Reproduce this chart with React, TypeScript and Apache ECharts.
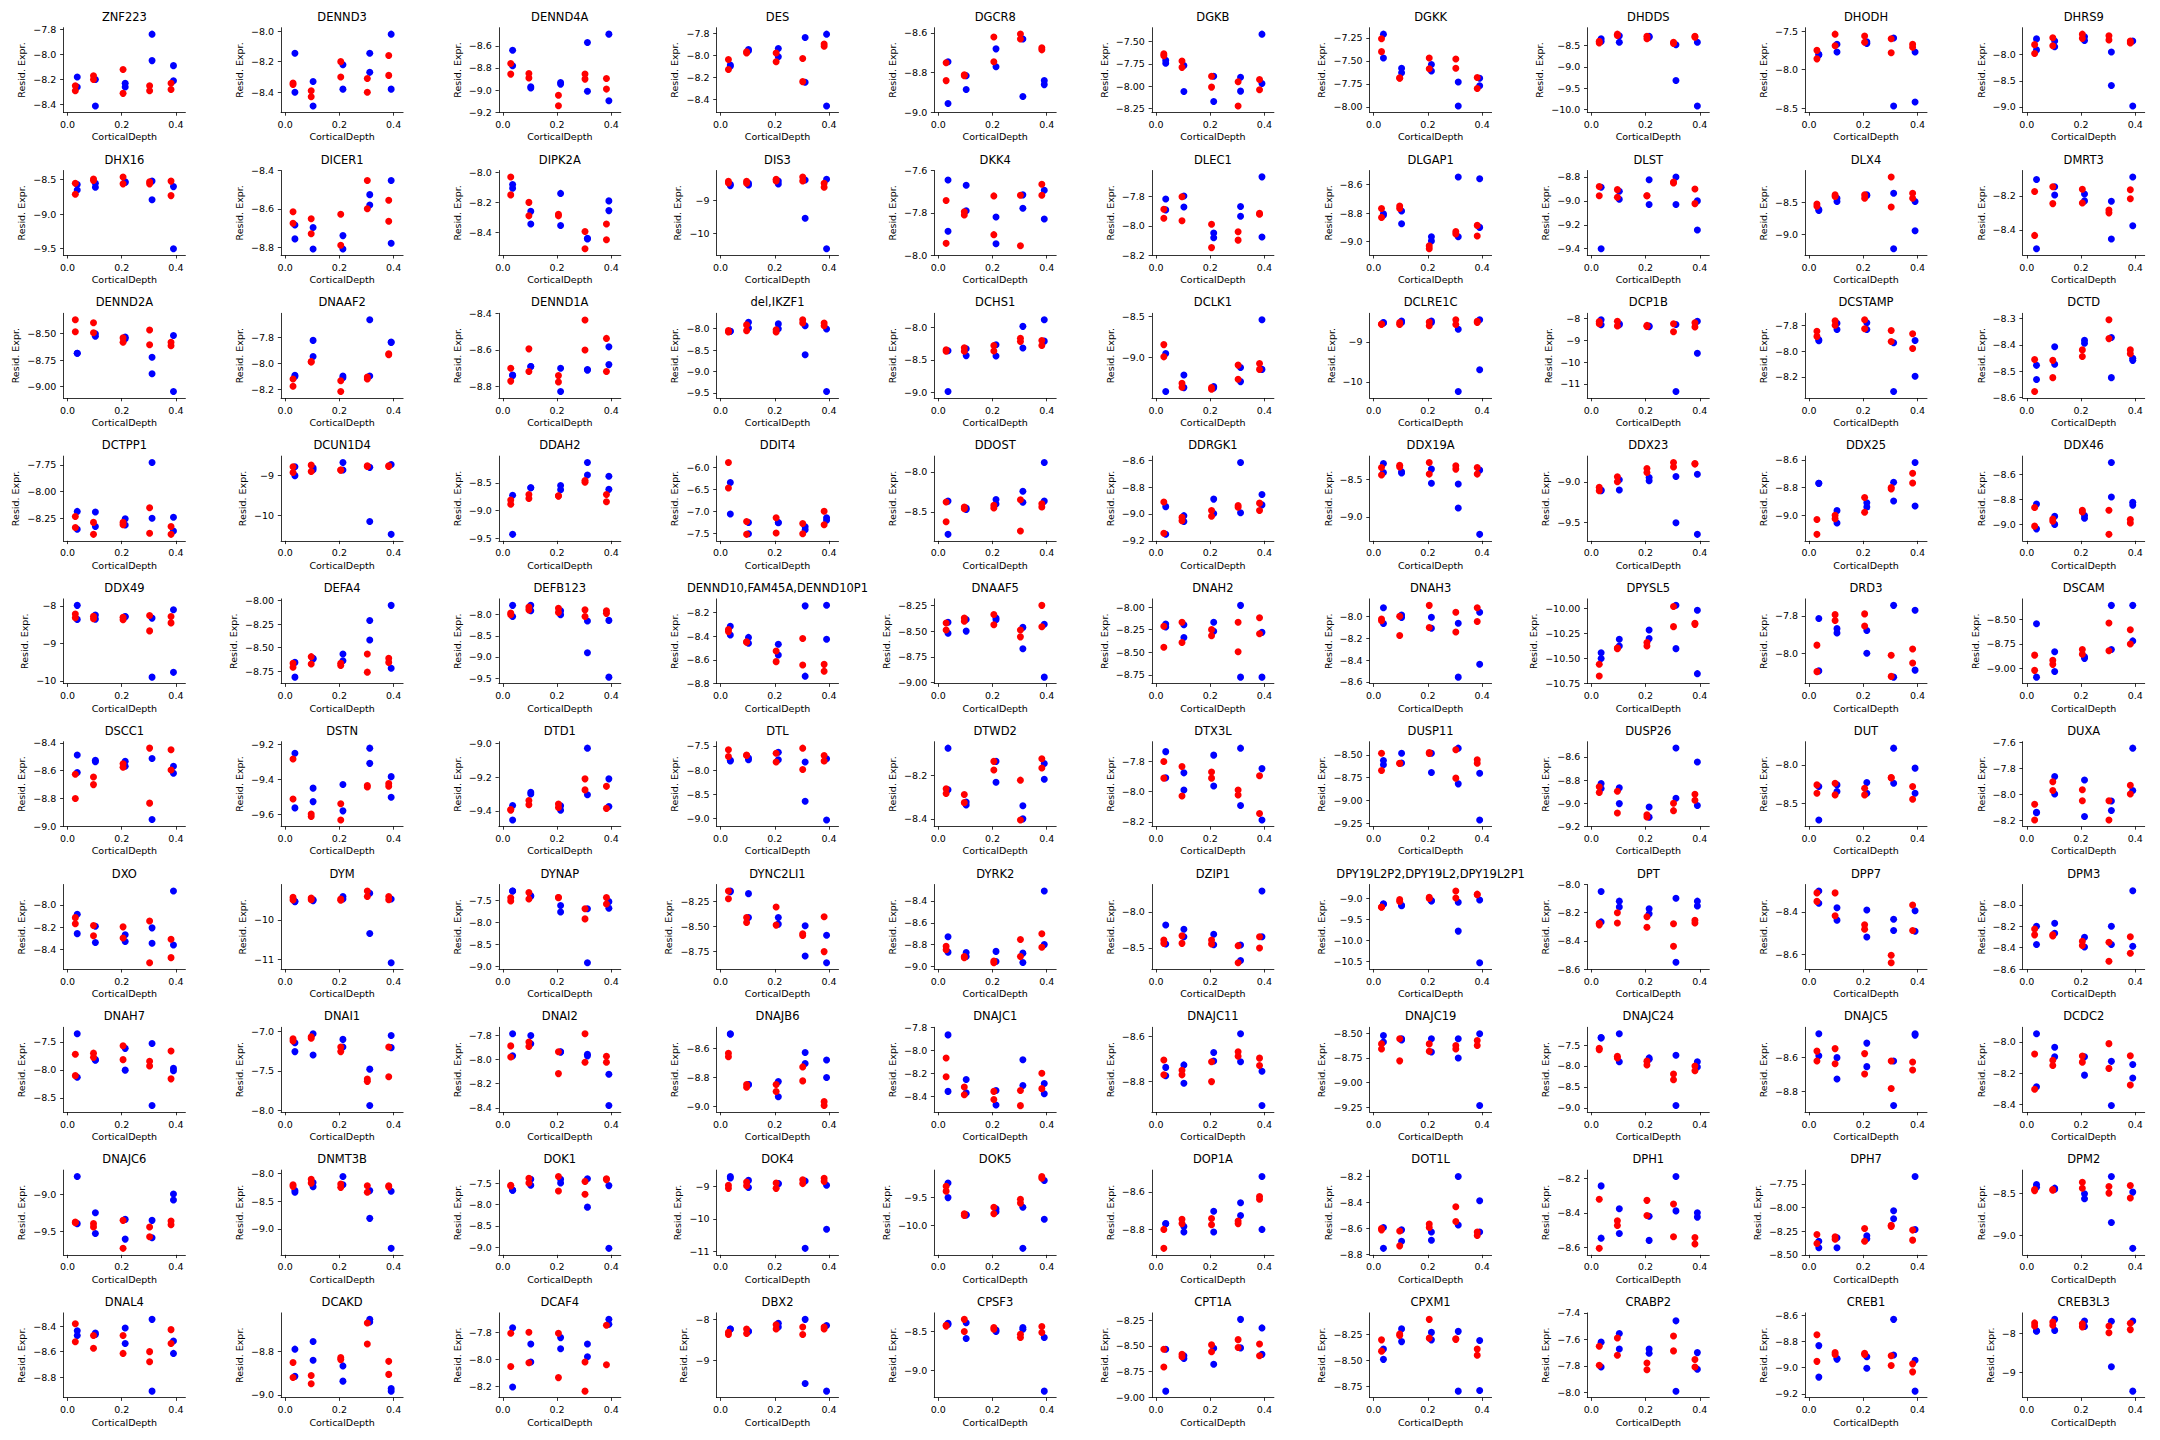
import React, { useEffect, useRef } from "react";
import * as echarts from "echarts";

const FONT = "DejaVu Sans";

const GENES = [
  "ZNF223","DENND3","DENND4A","DES","DGCR8","DGKB","DGKK","DHDDS","DHODH","DHRS9",
  "DHX16","DICER1","DIPK2A","DIS3","DKK4","DLEC1","DLGAP1","DLST","DLX4","DMRT3",
  "DENND2A","DNAAF2","DENND1A","del,IKZF1","DCHS1","DCLK1","DCLRE1C","DCP1B","DCSTAMP","DCTD",
  "DCTPP1","DCUN1D4","DDAH2","DDIT4","DDOST","DDRGK1","DDX19A","DDX23","DDX25","DDX46",
  "DDX49","DEFA4","DEFB123","DENND10,FAM45A,DENND10P1","DNAAF5","DNAH2","DNAH3","DPYSL5","DRD3","DSCAM",
  "DSCC1","DSTN","DTD1","DTL","DTWD2","DTX3L","DUSP11","DUSP26","DUT","DUXA",
  "DXO","DYM","DYNAP","DYNC2LI1","DYRK2","DZIP1","DPY19L2P2,DPY19L2,DPY19L2P1","DPT","DPP7","DPM3",
  "DNAH7","DNAI1","DNAI2","DNAJB6","DNAJC1","DNAJC11","DNAJC19","DNAJC24","DNAJC5","DCDC2",
  "DNAJC6","DNMT3B","DOK1","DOK4","DOK5","DOP1A","DOT1L","DPH1","DPH7","DPM2",
  "DNAL4","DCAKD","DCAF4","DBX2","CPSF3","CPT1A","CPXM1","CRABP2","CREB1","CREB3L3",
];

// CorticalDepth of each sample (two replicates per depth)
const RED_X = [0.029, 0.029, 0.096, 0.096, 0.205, 0.205, 0.303, 0.303, 0.382, 0.382];
const BLUE_X = [0.036, 0.036, 0.103, 0.103, 0.213, 0.213, 0.312, 0.312, 0.391, 0.391];
const X_TICKS = [0.0, 0.2, 0.4];
const X_MIN = -0.015;
const X_MAX = 0.435;

const RED: number[][] = [
  [-8.25,-8.29,-8.17,-8.20,-8.12,-8.31,-8.25,-8.29,-8.23,-8.28],
  [-8.34,-8.35,-8.39,-8.43,-8.20,-8.30,-8.31,-8.40,-8.16,-8.29],
  [-8.76,-8.855,-8.85,-8.89,-9.045,-9.14,-8.855,-8.90,-8.895,-8.99],
  [-8.04,-8.13,-7.97,-7.98,-7.98,-8.06,-8.03,-8.24,-7.90,-7.92],
  [-8.75,-8.84,-8.81,-8.815,-8.62,-8.745,-8.605,-8.63,-8.675,-8.685],
  [-7.64,-7.66,-7.72,-7.79,-7.89,-8.01,-7.95,-8.22,-7.925,-8.04],
  [-7.26,-7.40,-7.685,-7.69,-7.47,-7.585,-7.48,-7.58,-7.68,-7.80],
  [-8.40,-8.44,-8.23,-8.26,-8.28,-8.34,-8.42,-8.45,-8.28,-8.30],
  [-7.75,-7.86,-7.54,-7.69,-7.565,-7.645,-7.60,-7.78,-7.67,-7.71],
  [-7.81,-7.98,-7.68,-7.83,-7.61,-7.69,-7.64,-7.72,-7.74,-7.78],
  [-8.55,-8.71,-8.49,-8.51,-8.46,-8.56,-8.53,-8.56,-8.52,-8.73],
  [-8.615,-8.675,-8.652,-8.73,-8.628,-8.79,-8.452,-8.60,-8.555,-8.665],
  [-8.03,-8.15,-8.20,-8.29,-8.28,-8.29,-8.395,-8.51,-8.345,-8.45],
  [-8.43,-8.48,-8.43,-8.49,-8.37,-8.42,-8.30,-8.42,-8.49,-8.61],
  [-7.742,-7.944,-7.795,-7.81,-7.72,-7.903,-7.717,-7.955,-7.665,-7.717],
  [-7.886,-7.947,-7.80,-7.964,-7.988,-8.148,-8.04,-8.097,-7.914,-7.92],
  [-8.767,-8.83,-8.75,-8.767,-9.03,-9.05,-8.93,-8.946,-8.886,-8.96],
  [-8.88,-8.957,-8.906,-8.97,-8.957,-8.957,-8.843,-8.85,-8.90,-9.023],
  [-8.53,-8.565,-8.39,-8.415,-8.39,-8.44,-8.115,-8.575,-8.365,-8.44],
  [-8.175,-8.432,-8.147,-8.246,-8.162,-8.242,-8.284,-8.30,-8.165,-8.217],
  [-8.372,-8.484,-8.40,-8.494,-8.542,-8.583,-8.468,-8.606,-8.583,-8.615],
  [-8.12,-8.175,-7.987,-7.99,-8.133,-8.216,-8.105,-8.12,-7.926,-7.934],
  [-8.70,-8.77,-8.594,-8.718,-8.74,-8.775,-8.437,-8.60,-8.537,-8.718],
  [-8.045,-8.075,-7.91,-8.045,-8.022,-8.075,-7.79,-7.865,-7.865,-7.932],
  [-8.343,-8.368,-8.313,-8.368,-8.278,-8.363,-8.167,-8.217,-8.202,-8.278],
  [-8.843,-8.992,-9.315,-9.363,-9.367,-9.387,-9.093,-9.266,-9.073,-9.145],
  [-8.563,-8.56,-8.524,-8.571,-8.508,-8.603,-8.452,-8.571,-8.492,-8.52],
  [-8.144,-8.245,-8.13,-8.346,-8.317,-8.36,-8.245,-8.606,-8.2,-8.39],
  [-7.846,-7.886,-7.765,-7.80,-7.757,-7.827,-7.84,-7.926,-7.865,-7.98],
  [-8.456,-8.578,-8.459,-8.525,-8.419,-8.444,-8.304,-8.376,-8.419,-8.434],
  [-8.234,-8.337,-8.289,-8.401,-8.289,-8.311,-8.151,-8.391,-8.327,-8.401],
  [-8.774,-8.919,-8.734,-8.895,-8.855,-8.86,-8.75,-8.77,-8.75,-8.77],
  [-8.812,-8.888,-8.712,-8.782,-8.735,-8.74,-8.459,-8.488,-8.712,-8.841],
  [-5.89,-6.47,-7.233,-7.524,-7.145,-7.495,-7.277,-7.51,-7.0,-7.306],
  [-8.377,-8.623,-8.439,-8.46,-8.418,-8.451,-8.348,-8.738,-8.398,-8.439],
  [-8.912,-9.144,-9.026,-9.051,-8.974,-9.018,-8.938,-8.95,-8.92,-8.974],
  [-8.336,-8.438,-8.305,-8.33,-8.27,-8.425,-8.314,-8.358,-8.336,-8.425],
  [-9.07,-9.111,-8.939,-9.0,-8.836,-8.885,-8.762,-8.816,-8.775,-8.78],
  [-9.031,-9.138,-9.0,-9.026,-8.872,-8.979,-8.8,-8.81,-8.697,-8.767],
  [-8.864,-9.014,-8.956,-8.975,-8.886,-8.9,-8.886,-9.08,-8.961,-8.989],
  [-8.213,-8.315,-8.272,-8.34,-8.298,-8.366,-8.255,-8.664,-8.281,-8.451],
  [-8.667,-8.709,-8.596,-8.674,-8.667,-8.691,-8.568,-8.761,-8.614,-8.657],
  [-7.962,-8.0,-7.819,-7.887,-7.849,-7.947,-7.887,-8.045,-7.91,-7.97],
  [-8.343,-8.36,-8.446,-8.45,-8.524,-8.614,-8.418,-8.643,-8.637,-8.695],
  [-8.421,-8.49,-8.372,-8.405,-8.339,-8.438,-8.49,-8.556,-8.25,-8.457],
  [-8.212,-8.444,-8.168,-8.393,-8.25,-8.318,-8.168,-8.494,-8.119,-8.295],
  [-8.025,-8.04,-8.0,-8.175,-7.9,-8.103,-7.963,-8.144,-7.922,-8.047],
  [-10.558,-10.674,-10.402,-10.395,-10.342,-10.375,-9.983,-10.183,-10.149,-10.16],
  [-7.955,-8.095,-7.794,-7.825,-7.79,-7.854,-8.008,-8.12,-7.975,-8.049],
  [-8.867,-9.024,-8.92,-8.962,-8.808,-8.857,-8.535,-8.822,-8.605,-8.752],
  [-8.625,-8.80,-8.645,-8.70,-8.55,-8.575,-8.438,-8.833,-8.45,-8.595],
  [-9.285,-9.514,-9.60,-9.614,-9.541,-9.634,-9.437,-9.445,-9.425,-9.441],
  [-9.391,-9.395,-9.338,-9.364,-9.359,-9.38,-9.211,-9.276,-9.255,-9.385],
  [-7.58,-7.72,-7.687,-7.70,-7.653,-7.833,-7.547,-7.987,-7.70,-7.813],
  [-8.261,-8.283,-8.287,-8.325,-8.134,-8.174,-8.221,-8.405,-8.122,-8.165],
  [-7.802,-7.912,-7.835,-8.03,-7.872,-7.912,-7.99,-8.023,-7.896,-8.146],
  [-8.482,-8.672,-8.592,-8.595,-8.474,-8.485,-8.445,-8.756,-8.555,-8.592],
  [-8.858,-8.907,-8.896,-9.084,-9.099,-9.119,-9.0,-9.064,-8.922,-8.974],
  [-8.261,-8.37,-8.239,-8.391,-8.304,-8.391,-8.165,-8.17,-8.283,-8.448],
  [-8.075,-8.195,-7.901,-7.968,-7.963,-8.048,-8.048,-8.195,-7.928,-7.995],
  [-8.114,-8.169,-8.185,-8.277,-8.197,-8.298,-8.145,-8.52,-8.308,-8.474],
  [-9.426,-9.492,-9.443,-9.484,-9.467,-9.50,-9.262,-9.402,-9.402,-9.484],
  [-7.434,-7.507,-7.316,-7.463,-7.426,-7.43,-7.685,-7.914,-7.426,-7.574],
  [-8.142,-8.22,-8.409,-8.46,-8.304,-8.486,-8.574,-8.591,-8.402,-8.753],
  [-8.816,-8.847,-8.909,-8.92,-8.95,-8.966,-8.753,-8.909,-8.70,-8.825],
  [-8.391,-8.436,-8.332,-8.436,-8.391,-8.445,-8.468,-8.705,-8.345,-8.5],
  [-9.214,-9.22,-9.038,-9.084,-8.985,-9.01,-8.832,-9.0,-8.908,-8.92],
  [-8.286,-8.275,-8.2,-8.273,-8.229,-8.303,-8.278,-8.437,-8.253,-8.273],
  [-8.311,-8.351,-8.311,-8.418,-8.461,-8.482,-8.604,-8.639,-8.368,-8.488],
  [-8.225,-8.28,-8.28,-8.29,-8.34,-8.38,-8.349,-8.526,-8.297,-8.452],
  [-7.72,-8.104,-7.702,-7.777,-7.569,-7.818,-7.847,-7.933,-7.662,-8.162],
  [-7.096,-7.125,-7.071,-7.09,-7.2,-7.258,-7.604,-7.633,-7.2,-7.575],
  [-7.889,-7.98,-7.857,-7.894,-7.937,-8.117,-7.789,-8.023,-7.974,-8.023],
  [-8.632,-8.656,-8.849,-8.868,-8.849,-8.898,-8.727,-8.824,-8.968,-8.995],
  [-8.068,-8.23,-8.32,-8.388,-8.358,-8.429,-8.35,-8.482,-8.2,-8.334],
  [-8.704,-8.77,-8.75,-8.77,-8.712,-8.80,-8.668,-8.688,-8.696,-8.729],
  [-8.609,-8.66,-8.558,-8.78,-8.609,-8.684,-8.626,-8.66,-8.575,-8.626],
  [-7.577,-7.615,-7.769,-7.808,-7.885,-7.977,-8.192,-8.331,-8.0,-8.115],
  [-8.561,-8.62,-8.546,-8.637,-8.576,-8.698,-8.62,-8.785,-8.626,-8.674],
  [-8.077,-8.302,-8.117,-8.151,-8.09,-8.129,-8.011,-8.169,-8.088,-8.275],
  [-9.376,-9.385,-9.398,-9.442,-9.354,-9.73,-9.442,-9.575,-9.363,-9.412],
  [-8.201,-8.231,-8.101,-8.172,-8.189,-8.249,-8.219,-8.337,-8.219,-8.24],
  [-7.552,-7.57,-7.387,-7.5,-7.349,-7.687,-7.462,-7.762,-7.402,-7.42],
  [-8.971,-9.068,-8.873,-8.99,-8.902,-9.068,-8.805,-8.922,-8.756,-8.854],
  [-9.299,-9.385,-9.787,-9.816,-9.672,-9.787,-9.529,-9.598,-9.126,-9.155],
  [-8.8,-8.901,-8.746,-8.769,-8.742,-8.775,-8.755,-8.769,-8.625,-8.639],
  [-8.603,-8.613,-8.621,-8.736,-8.568,-8.595,-8.435,-8.549,-8.629,-8.656],
  [-8.322,-8.606,-8.446,-8.474,-8.328,-8.416,-8.349,-8.539,-8.543,-8.581],
  [-8.285,-8.38,-8.31,-8.335,-8.222,-8.356,-8.187,-8.2,-8.239,-8.345],
  [-8.457,-8.47,-8.457,-8.465,-8.37,-8.441,-8.421,-8.5,-8.409,-8.559],
  [-8.381,-8.522,-8.473,-8.573,-8.473,-8.614,-8.60,-8.679,-8.427,-8.536],
  [-8.851,-8.92,-8.911,-8.949,-8.829,-8.838,-8.67,-8.766,-8.846,-8.906],
  [-7.808,-8.054,-7.80,-8.026,-7.808,-8.136,-8.021,-8.236,-7.749,-8.041],
  [-8.315,-8.37,-8.236,-8.346,-8.134,-8.236,-8.189,-8.37,-8.189,-8.236],
  [-8.419,-8.43,-8.343,-8.5,-8.449,-8.47,-8.534,-8.576,-8.436,-8.513],
  [-8.533,-8.706,-8.583,-8.606,-8.49,-8.557,-8.44,-8.517,-8.483,-8.596],
  [-8.3,-8.41,-8.243,-8.257,-8.1,-8.283,-8.29,-8.295,-8.39,-8.45],
  [-7.652,-7.796,-7.59,-7.72,-7.778,-7.83,-7.574,-7.687,-7.752,-7.809],
  [-8.749,-8.952,-8.885,-8.899,-8.891,-8.9,-8.909,-8.984,-8.971,-9.032],
  [-7.74,-7.82,-7.72,-7.80,-7.76,-7.84,-7.82,-7.99,-7.75,-7.91],
];

const BLUE: number[][] = [
  [-8.18,-8.26,-8.20,-8.41,-8.23,-8.26,-7.84,-8.05,-8.09,-8.21],
  [-8.145,-8.40,-8.33,-8.49,-8.22,-8.38,-8.145,-8.27,-8.02,-8.38],
  [-8.64,-8.78,-8.97,-8.98,-8.93,-8.945,-8.57,-9.01,-8.495,-9.095],
  [-8.09,-8.10,-7.95,-7.96,-7.94,-8.015,-7.84,-8.245,-7.81,-8.46],
  [-8.745,-8.955,-8.815,-8.885,-8.68,-8.77,-8.63,-8.92,-8.84,-8.86],
  [-7.71,-7.745,-7.77,-8.06,-7.89,-8.17,-7.90,-8.055,-7.42,-7.97],
  [-7.21,-7.47,-7.58,-7.63,-7.54,-7.61,-7.73,-7.99,-7.69,-7.77],
  [-8.34,-8.40,-8.27,-8.42,-8.28,-8.30,-8.48,-9.32,-8.42,-9.92],
  [-7.80,-7.81,-7.67,-7.77,-7.64,-7.66,-7.59,-8.47,-7.77,-8.42],
  [-7.70,-7.91,-7.74,-7.85,-7.66,-7.73,-7.95,-8.59,-7.74,-8.98],
  [-8.57,-8.65,-8.55,-8.61,-8.53,-8.54,-8.52,-8.79,-8.60,-9.50],
  [-8.685,-8.757,-8.698,-8.81,-8.74,-8.81,-8.526,-8.58,-8.452,-8.78],
  [-8.08,-8.105,-8.26,-8.345,-8.14,-8.355,-8.44,-8.445,-8.19,-8.255],
  [-8.56,-8.52,-8.49,-8.54,-8.51,-8.42,-8.39,-9.54,-8.37,-10.46],
  [-7.645,-7.887,-7.67,-7.79,-7.82,-7.946,-7.715,-7.778,-7.693,-7.829],
  [-7.815,-7.89,-7.795,-7.87,-8.048,-8.08,-7.867,-7.934,-7.664,-8.076],
  [-8.805,-8.815,-8.785,-8.874,-8.966,-8.995,-8.546,-8.966,-8.558,-8.90],
  [-8.886,-9.40,-8.92,-8.986,-8.823,-9.03,-8.80,-9.03,-9.0,-9.243],
  [-8.615,-8.63,-8.44,-8.49,-8.39,-8.40,-8.365,-9.215,-8.49,-8.94],
  [-8.105,-8.51,-8.147,-8.196,-8.19,-8.23,-8.232,-8.453,-8.09,-8.375],
  [-8.686,-8.686,-8.503,-8.526,-8.535,-8.55,-8.724,-8.878,-8.519,-9.045],
  [-8.092,-8.10,-7.824,-7.947,-8.097,-8.11,-7.666,-8.097,-7.837,-7.84],
  [-8.737,-8.74,-8.69,-8.69,-8.70,-8.827,-8.707,-8.71,-8.583,-8.68],
  [-8.06,-8.06,-7.85,-7.985,-7.887,-8.0,-7.932,-8.61,-8.008,-9.47],
  [-8.36,-8.985,-8.328,-8.434,-8.268,-8.439,-7.985,-8.318,-7.884,-8.212],
  [-8.952,-9.415,-9.214,-9.367,-9.355,-9.37,-9.121,-9.294,-8.54,-9.145],
  [-8.524,-8.53,-8.484,-8.52,-8.484,-8.52,-8.69,-10.238,-8.452,-9.698],
  [-8.058,-8.29,-8.245,-8.29,-8.346,-8.38,-8.274,-11.35,-8.13,-9.59],
  [-7.913,-7.92,-7.784,-7.832,-7.78,-7.832,-7.935,-8.314,-7.918,-8.195],
  [-8.478,-8.532,-8.407,-8.474,-8.382,-8.394,-8.372,-8.525,-8.451,-8.459],
  [-8.186,-8.353,-8.192,-8.327,-8.256,-8.314,-7.728,-8.25,-8.24,-8.369],
  [-8.774,-9.0,-8.798,-8.85,-8.669,-8.855,-8.79,-10.16,-8.718,-10.484],
  [-8.724,-9.429,-8.588,-8.59,-8.547,-8.624,-8.135,-8.359,-8.382,-8.618],
  [-6.345,-7.06,-7.255,-7.51,-7.255,-7.26,-7.35,-7.42,-7.145,-7.204],
  [-8.365,-8.779,-8.451,-8.47,-8.344,-8.40,-8.242,-8.38,-7.885,-8.365],
  [-8.946,-9.151,-9.013,-9.056,-8.89,-8.997,-8.618,-8.992,-8.856,-8.933],
  [-8.283,-8.403,-8.394,-8.41,-8.358,-8.549,-8.558,-8.881,-8.372,-9.235],
  [-9.102,-9.11,-8.975,-9.102,-8.947,-8.988,-8.934,-9.508,-8.906,-9.652],
  [-8.769,-8.77,-8.967,-9.056,-8.91,-8.941,-8.762,-8.897,-8.62,-8.933],
  [-8.837,-9.036,-8.934,-9.0,-8.928,-8.95,-8.503,-8.78,-8.823,-8.845],
  [-7.983,-8.357,-8.238,-8.35,-8.281,-8.29,-8.323,-9.898,-8.102,-9.77],
  [-8.657,-8.814,-8.614,-8.62,-8.568,-8.639,-8.211,-8.418,-8.05,-8.719],
  [-7.781,-8.045,-7.781,-7.91,-7.91,-8.0,-8.151,-8.902,-8.136,-9.477],
  [-8.315,-8.389,-8.409,-8.458,-8.467,-8.558,-8.142,-8.737,-8.137,-8.424],
  [-8.414,-8.52,-8.388,-8.5,-8.372,-8.39,-8.464,-8.671,-8.434,-8.947],
  [-8.187,-8.22,-8.195,-8.337,-8.168,-8.268,-7.981,-8.776,-8.28,-8.776],
  [-8.066,-7.922,-7.988,-8.01,-8.009,-8.109,-8.063,-8.556,-7.963,-8.438],
  [-10.442,-10.5,-10.309,-10.375,-10.216,-10.302,-9.97,-10.402,-10.02,-10.651],
  [-7.814,-8.091,-7.868,-7.891,-7.878,-7.998,-7.745,-8.124,-7.771,-8.087],
  [-8.542,-9.094,-8.832,-9.035,-8.885,-8.9,-8.353,-8.808,-8.353,-8.72],
  [-8.488,-8.613,-8.525,-8.535,-8.533,-8.568,-8.513,-8.95,-8.568,-8.618],
  [-9.252,-9.565,-9.452,-9.529,-9.431,-9.582,-9.223,-9.31,-9.386,-9.504],
  [-9.368,-9.453,-9.29,-9.30,-9.37,-9.396,-9.03,-9.305,-9.211,-9.374],
  [-7.80,-7.81,-7.753,-7.787,-7.633,-7.787,-7.833,-8.647,-7.767,-9.033],
  [-8.073,-8.265,-8.322,-8.336,-8.134,-8.231,-8.339,-8.40,-8.144,-8.217],
  [-7.737,-7.91,-7.877,-7.99,-7.76,-7.964,-7.714,-8.093,-7.849,-8.188],
  [-8.562,-8.61,-8.482,-8.59,-8.482,-8.694,-8.427,-8.819,-8.702,-9.215],
  [-8.829,-8.872,-8.867,-9.003,-9.032,-9.12,-8.522,-8.957,-8.643,-9.02],
  [-8.283,-8.717,-8.261,-8.348,-8.23,-8.37,-7.783,-8.239,-8.043,-8.37],
  [-8.136,-8.14,-7.861,-7.995,-7.888,-8.168,-8.05,-8.123,-7.643,-7.968],
  [-8.083,-8.258,-8.191,-8.338,-8.268,-8.329,-8.206,-8.345,-7.874,-8.36],
  [-9.533,-9.53,-9.484,-9.508,-9.402,-9.467,-9.32,-10.344,-9.467,-11.09],
  [-7.279,-7.28,-7.39,-7.40,-7.611,-7.759,-7.685,-8.911,-7.522,-7.67],
  [-8.142,-8.15,-8.169,-8.409,-8.409,-8.476,-8.493,-8.797,-8.588,-8.865],
  [-8.728,-8.869,-8.872,-8.909,-8.862,-8.955,-8.878,-8.963,-8.309,-8.80],
  [-8.182,-8.445,-8.241,-8.345,-8.309,-8.455,-8.459,-8.673,-7.709,-8.345],
  [-9.138,-9.15,-9.176,-9.18,-9.061,-9.07,-9.1,-9.786,-9.046,-10.538],
  [-8.049,-8.265,-8.118,-8.16,-8.172,-8.208,-8.098,-8.551,-8.118,-8.152],
  [-8.302,-8.36,-8.381,-8.439,-8.391,-8.518,-8.435,-8.488,-8.395,-8.491],
  [-8.2,-8.37,-8.172,-8.265,-8.303,-8.394,-8.2,-8.37,-7.87,-8.387],
  [-7.355,-8.133,-7.818,-7.83,-7.616,-8.006,-7.529,-8.639,-7.971,-8.017],
  [-7.146,-7.258,-7.033,-7.3,-7.104,-7.2,-7.479,-7.938,-7.054,-7.208],
  [-7.789,-7.971,-7.803,-7.871,-7.937,-7.94,-7.957,-7.971,-8.123,-8.38],
  [-8.497,-8.50,-8.849,-8.85,-8.829,-8.934,-8.627,-8.703,-8.679,-8.80],
  [-7.866,-8.358,-8.254,-8.37,-8.35,-8.476,-8.083,-8.306,-8.29,-8.379],
  [-8.737,-8.774,-8.726,-8.807,-8.671,-8.709,-8.588,-8.712,-8.754,-8.906],
  [-8.524,-8.59,-8.558,-8.57,-8.558,-8.69,-8.558,-8.752,-8.507,-9.23],
  [-7.323,-7.33,-7.231,-7.9,-7.808,-7.84,-7.746,-8.946,-7.9,-8.023],
  [-8.457,-8.589,-8.6,-8.728,-8.513,-8.654,-8.62,-8.887,-8.457,-8.465],
  [-7.948,-8.286,-8.034,-8.095,-8.095,-8.212,-8.124,-8.406,-8.144,-8.23],
  [-9.398,-8.765,-9.252,-9.531,-9.341,-9.606,-9.354,-9.588,-9.0,-9.08],
  [-8.308,-8.337,-8.16,-8.237,-8.053,-8.2,-8.308,-8.811,-8.32,-9.355],
  [-7.665,-7.67,-7.41,-7.552,-7.41,-7.5,-7.402,-8.062,-7.56,-9.022],
  [-8.707,-8.75,-8.824,-9.039,-8.922,-8.93,-8.844,-10.902,-8.971,-10.317],
  [-9.241,-9.5,-9.805,-9.81,-9.701,-9.75,-9.672,-10.402,-9.195,-9.885],
  [-8.769,-8.77,-8.784,-8.814,-8.703,-8.814,-8.658,-8.726,-8.518,-8.80],
  [-8.595,-8.755,-8.613,-8.701,-8.629,-8.693,-8.203,-8.576,-8.389,-8.629],
  [-8.244,-8.547,-8.377,-8.52,-8.42,-8.56,-8.19,-8.389,-8.4,-8.425],
  [-8.356,-8.426,-8.32,-8.426,-8.3,-8.33,-8.035,-8.12,-7.673,-8.232],
  [-8.398,-8.429,-8.441,-8.455,-8.508,-8.567,-8.303,-8.85,-8.488,-9.157],
  [-8.435,-8.473,-8.454,-8.465,-8.414,-8.536,-8.346,-8.911,-8.517,-8.614],
  [-8.79,-8.915,-8.755,-8.841,-8.867,-8.937,-8.653,-8.665,-8.971,-8.983],
  [-7.767,-8.205,-7.887,-8.021,-7.84,-7.923,-7.887,-7.982,-7.705,-7.741],
  [-8.236,-8.24,-8.291,-8.3,-8.094,-8.19,-8.0,-9.575,-8.15,-9.764],
  [-8.394,-8.41,-8.386,-8.589,-8.479,-8.5,-8.449,-8.47,-8.576,-9.267],
  [-8.533,-8.94,-8.596,-8.623,-8.523,-8.679,-8.243,-8.52,-8.326,-8.583],
  [-8.39,-8.49,-8.193,-8.317,-8.227,-8.3,-8.217,-8.8,-8.307,-8.793],
  [-7.621,-7.809,-7.556,-7.673,-7.673,-7.705,-7.46,-7.992,-7.7,-7.825],
  [-8.832,-9.072,-8.931,-8.935,-8.917,-9.005,-8.632,-8.904,-8.944,-9.179],
  [-7.94,-7.95,-7.65,-7.93,-7.69,-7.83,-7.70,-8.85,-7.69,-9.47],
];

// y tick labels of each panel, as printed in the picture
const Y_TICKS: number[][] = [
  [-8.4,-8.2,-8.0,-7.8],[-8.4,-8.2,-8.0],[-9.2,-9.0,-8.8,-8.6],[-8.4,-8.2,-8.0,-7.8],[-9.0,-8.8,-8.6],
  [-8.25,-8.0,-7.75,-7.5],[-8.0,-7.75,-7.5,-7.25],[-10.0,-9.5,-9.0,-8.5],[-8.5,-8.0,-7.5],[-9.0,-8.5,-8.0],
  [-9.5,-9.0,-8.5],[-8.8,-8.6,-8.4],[-8.4,-8.2,-8.0],[-10,-9],[-8.0,-7.8,-7.6],
  [-8.2,-8.0,-7.8],[-9.0,-8.8,-8.6],[-9.4,-9.2,-9.0,-8.8],[-9.0,-8.5],[-8.4,-8.2],
  [-9.0,-8.75,-8.5],[-8.2,-8.0,-7.8],[-8.8,-8.6,-8.4],[-9.5,-9.0,-8.5,-8.0],[-9.0,-8.5,-8.0],
  [-9.0,-8.5],[-10,-9],[-11,-10,-9,-8],[-8.2,-8.0,-7.8],[-8.6,-8.5,-8.4,-8.3],
  [-8.25,-8.0,-7.75],[-10,-9],[-9.5,-9.0,-8.5],[-7.5,-7.0,-6.5,-6.0],[-8.5,-8.0],
  [-9.2,-9.0,-8.8,-8.6],[-9.0,-8.5],[-9.5,-9.0],[-9.0,-8.8,-8.6],[-9.0,-8.8,-8.6],
  [-10,-9,-8],[-8.75,-8.5,-8.25,-8.0],[-9.5,-9.0,-8.5,-8.0],[-8.8,-8.6,-8.4,-8.2],[-9.0,-8.75,-8.5,-8.25],
  [-8.75,-8.5,-8.25,-8.0],[-8.6,-8.4,-8.2,-8.0],[-10.75,-10.5,-10.25,-10.0],[-8.0,-7.8],[-9.0,-8.75,-8.5],
  [-9.0,-8.8,-8.6,-8.4],[-9.6,-9.4,-9.2],[-9.4,-9.2,-9.0],[-9.0,-8.5,-8.0,-7.5],[-8.4,-8.2],
  [-8.2,-8.0,-7.8],[-9.25,-9.0,-8.75,-8.5],[-9.2,-9.0,-8.8,-8.6],[-8.5,-8.0],[-8.2,-8.0,-7.8,-7.6],
  [-8.4,-8.2,-8.0],[-11,-10],[-9.0,-8.5,-8.0,-7.5],[-8.75,-8.5,-8.25],[-9.0,-8.8,-8.6,-8.4],
  [-8.5,-8.0],[-10.5,-10.0,-9.5,-9.0],[-8.6,-8.4,-8.2,-8.0],[-8.6,-8.4],[-8.6,-8.4,-8.2,-8.0],
  [-8.5,-8.0,-7.5],[-8.0,-7.5,-7.0],[-8.4,-8.2,-8.0,-7.8],[-9.0,-8.8,-8.6],[-8.4,-8.2,-8.0,-7.8],
  [-8.8,-8.6],[-9.25,-9.0,-8.75,-8.5],[-9.0,-8.5,-8.0,-7.5],[-8.8,-8.6],[-8.4,-8.2,-8.0],
  [-9.5,-9.0],[-9.0,-8.5,-8.0],[-9.0,-8.5,-8.0,-7.5],[-11,-10,-9],[-10.0,-9.5],
  [-8.8,-8.6],[-8.8,-8.6,-8.4,-8.2],[-8.6,-8.4,-8.2],[-8.5,-8.25,-8.0,-7.75],[-9.0,-8.5],
  [-8.8,-8.6,-8.4],[-9.0,-8.8],[-8.2,-8.0,-7.8],[-9,-8],[-9.0,-8.5],
  [-9.0,-8.75,-8.5,-8.25],[-8.75,-8.5,-8.25],[-8.0,-7.8,-7.6,-7.4],[-9.2,-9.0,-8.8,-8.6],[-9,-8],
];

const NCOL = 10;
const GRID_LEFT0 = 63.4;
const GRID_DX = 217.7;
const GRID_TOP0 = 27.7;
const GRID_DY = 142.8;
const GRID_W = 122;
const GRID_H = 84.7;
const TICK_FS = 9.5;
const TITLE_FS = 11.5;
const MARGIN = 0.09;
const DOT = 7;

function decimalsOf(ticks: number[]): number {
  if (ticks.length < 2) return 1;
  const d = Math.abs(ticks[1] - ticks[0]);
  if (Math.abs(d - Math.round(d)) < 1e-9) return 0;
  if (Math.abs(d * 10 - Math.round(d * 10)) < 1e-9) return 1;
  return 2;
}

function fmt(v: number, d: number): string {
  const s = Math.abs(v).toFixed(d);
  return v < -1e-12 && parseFloat(s) !== 0 ? "\u2212" + s : s;
}

let ctx: CanvasRenderingContext2D | null = null;
function textWidth(s: string, size: number): number {
  if (!ctx) ctx = document.createElement("canvas").getContext("2d");
  if (!ctx) return s.length * size * 0.6;
  ctx.font = `${size}px "${FONT}"`;
  return ctx.measureText(s).width;
}

export default function App() {
  const ref = useRef<HTMLDivElement>(null);

  useEffect(() => {
    if (!ref.current) return;
    const chart = echarts.init(ref.current, null, { renderer: "svg" });

    const grids: any[] = [];
    const xAxes: any[] = [];
    const yAxes: any[] = [];
    const series: any[] = [];
    const graphics: any[] = [];

    const lineStyle = { color: "#000", width: 0.8 };
    const labelStyle = { fontSize: TICK_FS, color: "#000", fontFamily: FONT };

    GENES.forEach((gene, i) => {
      const r = Math.floor(i / NCOL);
      const c = i % NCOL;
      const left = GRID_LEFT0 + GRID_DX * c;
      const top = GRID_TOP0 + GRID_DY * r;

      grids.push({
        left,
        top,
        width: GRID_W,
        height: GRID_H,
        containLabel: false,
        outerBoundsMode: "none",
        show: false,
      });

      xAxes.push({
        gridIndex: i,
        type: "value",
        min: X_MIN,
        max: X_MAX,
        name: "CorticalDepth",
        nameLocation: "middle",
        nameGap: 19.5,
        nameTextStyle: { fontSize: TICK_FS, color: "#000", fontFamily: FONT },
        axisLine: { show: true, onZero: false, lineStyle },
        axisTick: { show: true, length: 3.3, lineStyle, customValues: X_TICKS },
        axisLabel: {
          ...labelStyle,
          margin: 7,
          customValues: X_TICKS,
          formatter: (v: number) => fmt(v, 1),
        },
        splitLine: { show: false },
      });

      const ticks = Y_TICKS[i];
      const dec = decimalsOf(ticks);
      const all = [...RED[i], ...BLUE[i]];
      const lo = Math.min(...all);
      const hi = Math.max(...all);
      const pad = (hi - lo) * MARGIN;
      const ymin = Math.min(lo - pad, Math.min(...ticks));
      const ymax = Math.max(hi + pad, Math.max(...ticks));
      const maxW = Math.max(...ticks.map((t) => textWidth(fmt(t, dec), TICK_FS)));

      yAxes.push({
        gridIndex: i,
        type: "value",
        min: ymin,
        max: ymax,
        name: "Resid. Expr.",
        nameLocation: "middle",
        nameRotate: 90,
        nameGap: 7 + maxW + 6.5,
        nameTextStyle: { fontSize: TICK_FS, color: "#000", fontFamily: FONT },
        axisLine: { show: true, onZero: false, lineStyle },
        axisTick: { show: true, length: 3.3, lineStyle, customValues: ticks },
        axisLabel: {
          ...labelStyle,
          margin: 7,
          customValues: ticks,
          formatter: (v: number) => fmt(v, dec),
        },
        splitLine: { show: false },
      });

      series.push({
        type: "scatter",
        xAxisIndex: i,
        yAxisIndex: i,
        data: BLUE[i].map((v, j) => [BLUE_X[j], v]),
        symbol: "circle",
        symbolSize: DOT,
        itemStyle: { color: "#0000ff", opacity: 1 },
        silent: true,
      });
      series.push({
        type: "scatter",
        xAxisIndex: i,
        yAxisIndex: i,
        data: RED[i].map((v, j) => [RED_X[j], v]),
        symbol: "circle",
        symbolSize: DOT,
        itemStyle: { color: "#ff0000", opacity: 1 },
        silent: true,
      });

      graphics.push({
        type: "text",
        x: left + GRID_W / 2,
        y: top - 11,
        silent: true,
        style: {
          text: gene,
          fill: "#000",
          fontSize: TITLE_FS,
          fontFamily: FONT,
          font: `${TITLE_FS}px "${FONT}"`,
          align: "center",
          textAlign: "center",
          verticalAlign: "middle",
          textVerticalAlign: "middle",
        },
      });
    });

    chart.setOption({
      animation: false,
      backgroundColor: "#ffffff",
      textStyle: { fontFamily: FONT },
      grid: grids,
      xAxis: xAxes,
      yAxis: yAxes,
      series,
      graphic: { elements: graphics },
    });

    return () => chart.dispose();
  }, []);

  return (
    <div
      ref={ref}
      style={{
        position: "absolute",
        left: 0,
        top: 0,
        width: 2160,
        height: 1440,
        background: "#fff",
      }}
    />
  );
}
